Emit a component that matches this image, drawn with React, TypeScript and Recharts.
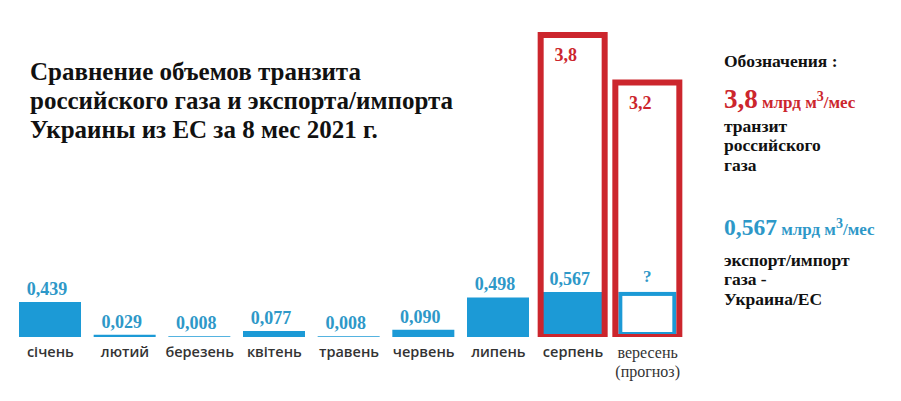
import React from 'react';
import { BarChart, Bar, XAxis, YAxis, LabelList } from 'recharts';

const months = ['січень', 'лютий', 'березень', 'квітень', 'травень', 'червень', 'липень', 'серпень', 'вересень'];
// export/import Ukraine-EU, bln m3 per month
const exportImport = [0.439, 0.029, 0.008, 0.077, 0.008, 0.09, 0.498, 0.567, null];
// forecast month drawn with the last known height, labelled "?"
const forecastBox = [null, null, null, null, null, null, null, null, 0.567];
// russian gas transit, bln m3 per month
const transit = [null, null, null, null, null, null, null, 3.8, 3.2];
const tickNotes = ['', '', '', '', '', '', '', '', '(прогноз)'];

const titleLines = [
  'Сравнение объемов транзита',
  'российского газа и экспорта/импорта',
  'Украины из ЕС за 8 мес 2021 г.',
];

const BLUE = '#1c9ad6';
const LABEL_BLUE = '#2e98c8';
const RED = '#cc262d';
const SERIF = '"Liberation Serif", "Times New Roman", serif';

const data = months.map((m, i) => ({
  month: m,
  exp: exportImport[i],
  fc: forecastBox[i],
  tr: transit[i],
}));

// recharts hands the tick a y a bit below the axis line, so baselines are offset from it
const MonthTick = (props: any) => {
  const { x, y, payload, index } = props;
  const note = tickNotes[index] || '';
  if (note) {
    return (
      <g style={{ fontFamily: SERIF }}>
        <text x={x} y={y - 9} textAnchor="middle" fontSize={16} fill="#333">
          {payload.value}
        </text>
        <text x={x} y={y + 10} textAnchor="middle" fontSize={16} fill="#333">
          {note}
        </text>
      </g>
    );
  }
  return (
    <text x={x} y={y - 10} textAnchor="middle" fontFamily='"Open Sans", sans-serif' fontWeight={600} fontSize={14.5} fill="#333">
      {payload.value}
    </text>
  );
};

const ExpLabel = (props: any) => {
  const { x, y, width, value } = props;
  if (value == null) return null;
  return (
    <text x={x + width / 2 - 3} y={y - 7} textAnchor="middle" fontFamily={SERIF} fontWeight="bold" fontSize={18} fill={LABEL_BLUE}>
      {Number(value).toFixed(3).replace('.', ',')}
    </text>
  );
};

const QuestionLabel = (props: any) => {
  const { x, y, width, value } = props;
  if (value == null) return null;
  return (
    <text x={x + width / 2} y={y - 10} textAnchor="middle" fontFamily={SERIF} fontWeight="bold" fontSize={17} fill={LABEL_BLUE}>
      ?
    </text>
  );
};

const TransitLabel = (props: any) => {
  const { x, y, width, value } = props;
  if (value == null) return null;
  return (
    <text x={x + width / 2 - 7} y={y + 26} textAnchor="middle" fontFamily={SERIF} fontWeight="bold" fontSize={18} fill={RED}>
      {Number(value).toFixed(1).replace('.', ',')}
    </text>
  );
};

const ForecastShape = (props: any) => {
  const { x, y, width, height } = props;
  if (!height) return null;
  return <rect x={x + 4} y={y + 2} width={width - 8} height={height - 5} fill="#fff" stroke={BLUE} strokeWidth={4} />;
};

const Unit = () => (
  <>
    <tspan fontSize={17}> млрд м</tspan>
    <tspan fontSize={14} dy={-7}>3</tspan>
    <tspan fontSize={17} dy={7}>/мес</tspan>
  </>
);

const Legend = () => (
  <svg width={901} height={401} style={{ position: 'absolute', left: 0, top: 0, pointerEvents: 'none' }}>
    {titleLines.map((t, i) => (
      <text key={i} x={30} y={80 + i * 29} fontFamily={SERIF} fontWeight="bold" fontSize={25} fill="#111">
        {t}
      </text>
    ))}
    <g fontFamily={SERIF} fontWeight="bold">
      <text x={724} y={67} fontSize={17.5} fill="#111">Обозначения :</text>
      <text x={724} y={108} fill={RED}>
        <tspan fontSize={27}>3,8</tspan>
        <Unit />
      </text>
      <text x={724} y={132} fontSize={17.5} fill="#111">транзит</text>
      <text x={724} y={151} fontSize={17.5} fill="#111">российского</text>
      <text x={724} y={171} fontSize={17.5} fill="#111">газа</text>
      <text x={724} y={235} fill={LABEL_BLUE}>
        <tspan fontSize={23.5}>0,567</tspan>
        <Unit />
      </text>
      <text x={724} y={266} fontSize={17.5} fill="#111">экспорт/импорт</text>
      <text x={724} y={285} fontSize={17.5} fill="#111">газа -</text>
      <text x={724} y={305} fontSize={17.5} fill="#111">Украина/ЕС</text>
    </g>
  </svg>
);

export default function App() {
  return (
    <div style={{ position: 'absolute', left: 0, top: 0, width: 901, height: 401, background: '#fff' }}>
      <BarChart width={901} height={401} data={data} margin={{ top: 19, right: 216, left: 13, bottom: 4 }}>
        <XAxis
          xAxisId="main"
          dataKey="month"
          axisLine={false}
          tickLine={false}
          tickSize={0}
          tickMargin={0}
          interval={0}
          height={60}
          tick={<MonthTick />}
        />
        <XAxis xAxisId="box" dataKey="month" hide />
        <YAxis hide domain={[0, 4]} allowDataOverflow />
        <Bar xAxisId="main" dataKey="exp" stackId="b" fill={BLUE} barSize={62} isAnimationActive={false}>
          <LabelList dataKey="exp" content={<ExpLabel />} />
        </Bar>
        <Bar xAxisId="main" dataKey="fc" stackId="b" fill="#fff" barSize={62} shape={<ForecastShape />} isAnimationActive={false}>
          <LabelList dataKey="fc" content={<QuestionLabel />} />
        </Bar>
        <Bar xAxisId="box" dataKey="tr" fill="none" stroke={RED} strokeWidth={6} barSize={64} isAnimationActive={false}>
          <LabelList dataKey="tr" content={<TransitLabel />} />
        </Bar>
      </BarChart>
      <Legend />
    </div>
  );
}
